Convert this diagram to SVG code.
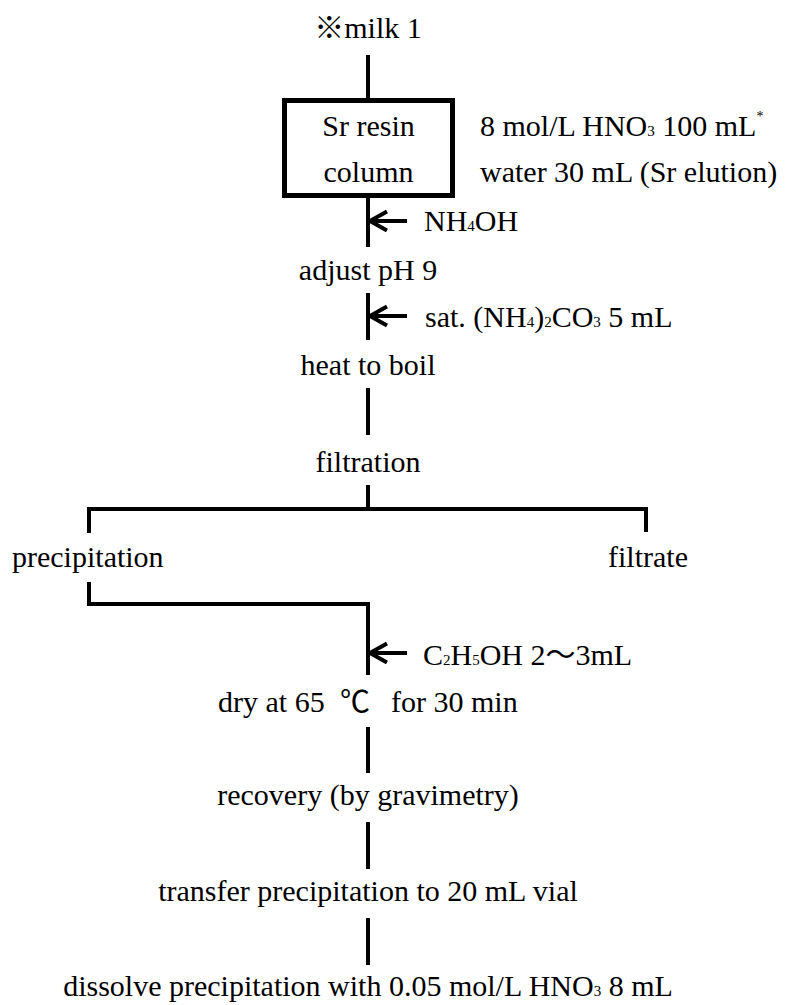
<svg xmlns="http://www.w3.org/2000/svg" width="785" height="1005" viewBox="0 0 785 1005">
<style>
text{font-family:'Liberation Serif','Times New Roman',Times,'DejaVu Serif',serif;font-size:30px;fill:#000}
.c{text-anchor:middle}
.cjk{font-family:'Noto Sans CJK TC','Noto Sans CJK JP',sans-serif}
.sub{font-size:15px}
.ln{stroke:#000;stroke-width:4;fill:none;stroke-linejoin:miter}
.box{stroke:#000;stroke-width:5;fill:#fff}
</style>
<defs>
<path id="arr" d="M37 0 H0 M17 -9.5 L0 0 L17 9.5" class="ln"/>
</defs>
<g id="connectors">
<line class="ln" x1="368" y1="55" x2="368" y2="99"/>
<line class="ln" x1="368" y1="197" x2="368" y2="247"/>
<use href="#arr" x="370" y="221"/>
<line class="ln" x1="368" y1="293" x2="368" y2="340"/>
<use href="#arr" x="370" y="316"/>
<line class="ln" x1="368" y1="388" x2="368" y2="435"/>
<line class="ln" x1="368" y1="485" x2="368" y2="509"/>
<polyline class="ln" points="89,533 89,509 646,509 646,532"/>
<polyline class="ln" points="89,582 89,604 368,604 368,675"/>
<use href="#arr" x="370" y="653"/>
<line class="ln" x1="368" y1="727" x2="368" y2="773"/>
<line class="ln" x1="368" y1="822" x2="368" y2="869"/>
<line class="ln" x1="368" y1="918" x2="368" y2="965"/>
</g>
<g id="milk"><text class="c" x="368" y="38" font-family="Liberation Serif, serif"><tspan class="cjk">※</tspan>milk 1</text></g>
<g id="column">
<rect class="box" x="284.5" y="100.5" width="168" height="95"/>
<text class="c" x="368.5" y="136" font-family="Liberation Serif, serif">Sr resin</text>
<text class="c" x="368.5" y="182" font-family="Liberation Serif, serif">column</text>
</g>
<g id="column-reagents">
<text x="480" y="136" font-family="Liberation Serif, serif">8 mol/L HNO<tspan class="sub">3</tspan> 100 mL<tspan font-size="14" dy="-15" fill="#000">*</tspan></text>
<text x="480" y="182" font-family="Liberation Serif, serif">water 30 mL (Sr elution)</text>
</g>
<g id="nh4oh"><text x="424" y="231" font-family="Liberation Serif, serif">NH<tspan class="sub">4</tspan>OH</text></g>
<g id="adjust"><text class="c" x="368" y="280" font-family="Liberation Serif, serif">adjust pH 9</text></g>
<g id="carbonate"><text x="425" y="327" font-family="Liberation Serif, serif">sat. (NH<tspan class="sub">4</tspan>)<tspan class="sub">2</tspan>CO<tspan class="sub">3</tspan> 5 mL</text></g>
<g id="heat"><text class="c" x="368" y="375" font-family="Liberation Serif, serif">heat to boil</text></g>
<g id="filtration"><text class="c" x="368" y="472" font-family="Liberation Serif, serif">filtration</text></g>
<g id="precipitation"><text x="12" y="567" font-family="Liberation Serif, serif">precipitation</text></g>
<g id="filtrate"><text x="608" y="567" font-family="Liberation Serif, serif">filtrate</text></g>
<g id="ethanol"><text x="423" y="665" font-family="Liberation Serif, serif">C<tspan class="sub">2</tspan>H<tspan class="sub">5</tspan>OH 2<tspan class="cjk">～</tspan>3mL</text></g>
<g id="dry"><text y="712" font-family="Liberation Serif, serif"><tspan x="218">dry at 65</tspan><tspan x="340" class="cjk">℃</tspan><tspan x="391">for 30 min</tspan></text></g>
<g id="recovery"><text class="c" x="368" y="805" font-family="Liberation Serif, serif">recovery (by gravimetry)</text></g>
<g id="transfer"><text class="c" x="368" y="901" font-family="Liberation Serif, serif">transfer precipitation to 20 mL vial</text></g>
<g id="dissolve"><text class="c" x="368" y="996" font-family="Liberation Serif, serif">dissolve precipitation with 0.05 mol/L HNO<tspan class="sub">3</tspan> 8 mL</text></g>
</svg>
